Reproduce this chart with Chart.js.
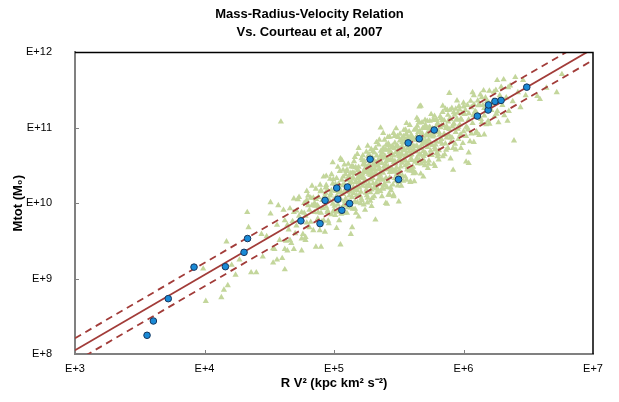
<!DOCTYPE html>
<html>
<head>
<meta charset="utf-8">
<script src="https://cdn.jsdelivr.net/npm/chart.js@4.4.0/dist/chart.umd.min.js"></script>
<style>
  html, body { margin: 0; padding: 0; background: #fff; }
</style>
</head>
<body>
<canvas id="c" width="619" height="402"></canvas>
<script>
const xTicks = [1e3, 1e4, 1e5, 1e6, 1e7];
const xTickLabels = ['E+3', 'E+4', 'E+5', 'E+6', 'E+7'];
const yTicks = [1e8, 1e9, 1e10, 1e11, 1e12];
const yTickLabels = ['E+8', 'E+9', 'E+10', 'E+11', 'E+12'];

// Courteau et al. comparison galaxies (blue circles)
const blueX = [3.6e3, 4.03e3, 5.25e3, 8.3e3, 1.45e4, 2.02e4, 2.15e4, 5.55e4, 7.8e4, 8.53e4,
  1.05e5, 1.27e5, 1.07e5, 1.32e5, 1.15e5, 1.9e5, 3.15e5, 3.74e5, 4.55e5, 5.94e5,
  1.28e6, 1.55e6, 1.56e6, 1.75e6, 1.95e6, 3.08e6];
const blueY = [1.77e8, 2.74e8, 5.42e8, 1.42e9, 1.44e9, 2.23e9, 3.4e9, 5.83e9, 5.36e9, 1.09e10,
  1.59e10, 1.64e10, 1.13e10, 9.9e9, 8.06e9, 3.83e10, 2.07e10, 6.31e10, 7.16e10, 9.35e10,
  1.43e11, 1.72e11, 2.01e11, 2.24e11, 2.31e11, 3.46e11];

// fit line and its scatter band
const fitX = [1e3, 1e7];
const fitY = [1.12e8, 1.12e12];
const upperY = [1.62e8, 1.62e12];
const lowerY = [7.9e7, 7.9e11];

const greenLogX = [
  4.62,4.65,4.66,4.68,4.70,4.71,4.72,4.74,4.75,4.76,4.77,4.78,4.79,4.80,4.63,4.69,4.73,4.78,4.67,4.80,
  4.81,4.82,4.82,4.83,4.84,4.85,4.85,4.86,4.87,4.88,4.88,4.89,4.90,4.90,4.91,4.92,4.92,4.93,4.94,4.94,
  4.95,4.95,4.96,4.96,4.97,4.97,4.98,4.98,4.99,4.99,5.00,5.00,4.84,4.87,4.93,
  5.01,5.01,5.02,5.02,5.03,5.03,5.04,5.04,5.05,5.05,5.06,5.06,5.07,5.07,5.08,5.08,5.09,5.09,5.10,5.10,
  5.11,5.11,5.12,5.12,5.13,5.13,5.14,5.14,5.15,5.15,5.16,5.16,5.17,5.17,5.18,5.18,5.19,5.19,5.20,5.20,
  5.02,5.06,5.10,5.14,5.18,5.12,5.04,5.16,5.08,5.20,
  5.21,5.21,5.22,5.22,5.23,5.23,5.24,5.24,5.25,5.25,5.26,5.26,5.27,5.27,5.28,5.28,5.29,5.29,5.30,5.30,
  5.31,5.31,5.32,5.32,5.33,5.33,5.34,5.34,5.35,5.35,5.36,5.36,5.37,5.37,5.38,5.38,5.39,5.39,5.40,5.40,
  5.22,5.24,5.26,5.28,5.30,5.32,5.34,5.36,5.38,5.40,5.23,5.27,5.31,5.35,5.39,
  5.41,5.41,5.42,5.42,5.43,5.43,5.44,5.44,5.45,5.45,5.46,5.46,5.47,5.47,5.48,5.48,5.49,5.49,5.50,5.50,
  5.51,5.51,5.52,5.52,5.53,5.53,5.54,5.54,5.55,5.55,5.56,5.56,5.57,5.57,5.58,5.58,5.59,5.59,5.60,5.60,
  5.42,5.44,5.46,5.48,5.50,5.52,5.54,5.56,5.58,5.60,5.43,5.47,5.51,5.55,5.59,
  5.61,5.61,5.62,5.62,5.63,5.63,5.64,5.64,5.65,5.65,5.66,5.66,5.67,5.67,5.68,5.68,5.69,5.69,5.70,5.70,
  5.71,5.71,5.72,5.72,5.73,5.73,5.74,5.74,5.75,5.75,5.76,5.76,5.77,5.77,5.78,5.78,5.79,5.79,5.80,5.80,
  5.64,5.70,5.74,5.62,5.78,
  5.81,5.81,5.82,5.83,5.83,5.84,5.85,5.85,5.86,5.86,5.87,5.88,5.88,5.89,5.90,5.90,5.91,5.92,5.92,5.93,
  5.94,5.94,5.95,5.96,5.96,5.97,5.98,5.98,5.99,6.00,6.00,5.84,5.90,5.95,5.87,
  6.01,6.02,6.03,6.04,6.05,6.06,6.07,6.08,6.09,6.10,6.11,6.12,6.13,6.14,6.15,6.16,6.17,6.18,6.19,6.20,
  6.03,6.07,6.12,6.16,6.08,
  6.22,6.24,6.25,6.27,6.28,6.30,6.31,6.33,6.35,6.36,6.38,6.40,6.42,6.44,6.46,6.48,6.26,6.34,
  4.59,4.33,4.34,4.17,4.27,4.21,3.99,4.24,4.36,4.40,4.18,4.15,4.13,4.01,4.51,4.51,4.44,4.48,4.53,4.56,
  4.53,4.60,4.62,4.45,4.54,4.62,4.69,4.75,
  6.39,6.04,5.89,5.66,6.76,6.72,6.64,6.57,6.59,
  4.99,5.05,5.19,5.36,5.38,5.56,5.67,4.94,4.79,
  5.19,5.29,5.41,5.46,6.02,6.04,5.92,5.32,5.50,5.40,5.13,5.05,5.14,4.90,4.86,4.78,5.69,5.59,5.46,5.43,
  4.855,4.875,4.895,4.915,4.935,4.955,4.975,4.995,5.005,5.015,5.025,5.035,5.045,5.055,5.065,5.075,5.085,5.095,5.105,5.115,
  5.125,5.135,5.145,5.155,5.165,5.175,5.185,5.195,5.205,5.215,5.225,5.235,5.245,5.255,5.265,5.275,5.285,5.295,5.305,5.315,
  5.325,5.335,5.345,5.355,5.365,5.375,5.385,5.395,5.405,5.415,5.425,5.435,5.445,5.455,5.465,5.475,5.485,5.495,5.505,5.515,
  5.525,5.535,5.545,5.555,5.565,5.575,5.585,5.595,5.605,5.615,5.625,5.635,5.645,5.655,5.665,5.675,5.685,5.695,5.705,5.715,
  5.725,5.735,5.745,5.755,5.765,5.775,5.785,5.795,5.805,5.815,5.825,5.835,5.845,5.855,5.865,5.875,5.885,5.895,5.905,5.915,
  5.925,5.935,5.945,5.955,5.965,5.975,5.985,5.995,6.015,6.035,6.055,6.075,6.095,6.115,6.135,6.155,6.175,6.195,6.215,6.235,
  6.255,6.285,6.315,6.345,
  5.103,5.118,5.133,5.148,5.163,5.178,5.193,5.208,5.223,5.238,5.253,5.268,5.283,5.298,5.313,5.328,5.343,5.358,5.373,5.388,
  5.403,5.418,5.433,5.448,5.463,5.478,5.493,5.508,5.523,5.538,5.553,5.568,5.583,5.598,5.613,5.628,5.643,5.658,5.673,5.688,
  5.703,5.718,5.733,5.748,5.763,5.778,5.793,5.808,5.823,5.838,
  4.56,4.58,4.61,4.64,4.66,4.69,4.71,4.73,4.75,4.77,4.79,4.81,4.83,4.57,4.64,
  4.862,4.878,4.893,4.907,4.921,4.936,4.951,4.966,4.981,4.996,5.011,5.026,5.041,5.056,5.071,5.086,5.101,5.116,5.131,5.146,
  5.161,5.176,5.191,5.206,5.221,5.236,5.251,5.266,5.281,5.296,5.311,5.326,5.341,5.356,5.371,5.386,5.401,5.416,5.431,5.446,
  5.461,5.476,5.491,5.506,5.521,5.536,5.551,5.566,5.581,5.596,5.611,5.626,5.641,5.656,5.671,5.686,5.701,5.716,5.731,5.746,
  5.761,5.776,5.791,5.806,5.821,5.836,5.851,5.866,5.881,5.896,5.911,5.926,5.941,5.956,5.971,5.986,6.001,6.021,6.041,6.061,
  6.081,6.101,6.121,6.141,6.161,6.181,6.201,6.231,6.261,6.291,
  5.152,5.167,5.182,5.197,5.212,5.227,5.242,5.257,5.272,5.287,5.302,5.317,5.332,5.347,5.362,5.377,5.392,5.407,5.422,5.437,
  5.452,5.467,5.482,5.497,5.512,5.527,5.542,5.557,5.572,5.587,5.602,5.617,5.632,5.647,5.662,5.677,5.692,5.707,5.722,5.737
];
const greenLogY = [
  9.77,9.65,9.93,9.76,9.60,9.90,10.05,9.77,9.88,9.59,10.00,9.83,9.74,10.10,9.50,10.06,9.83,9.55,9.47,9.97,
  9.91,9.75,10.07,10.23,9.64,10.00,9.88,10.19,9.77,10.08,9.95,9.64,10.17,9.87,10.04,10.35,9.77,10.10,9.95,10.24,
  9.88,10.18,10.04,9.73,10.32,10.10,9.85,10.17,9.99,10.26,10.05,9.91,10.07,9.97,9.62,
  10.16,9.84,10.33,10.09,9.98,10.48,10.24,9.77,10.16,10.05,10.31,9.93,10.44,10.12,10.25,9.87,10.38,10.06,10.20,10.31,
  10.02,10.52,10.26,10.15,9.94,10.40,10.32,10.08,10.48,10.21,10.02,10.39,10.29,9.87,10.65,10.17,10.35,10.48,10.10,10.28,
  9.67,10.57,9.87,10.49,10.01,10.36,10.14,10.18,10.51,10.40,
  10.34,10.06,10.57,10.23,10.42,9.98,10.51,10.31,10.18,10.68,10.41,10.07,10.50,10.26,10.60,10.37,10.18,10.46,10.69,10.33,
  10.09,10.56,10.44,10.24,10.63,10.38,10.18,10.54,10.84,10.45,10.32,10.63,10.09,10.53,10.73,10.40,10.61,10.26,10.51,10.71,
  10.39,9.91,10.76,10.03,10.51,10.73,10.31,10.41,10.19,10.33,10.33,10.65,10.45,10.25,10.84,
  10.60,10.21,10.79,10.48,10.34,10.68,10.57,10.17,10.76,10.45,10.63,10.93,10.33,10.56,10.75,10.43,10.89,10.64,10.28,10.72,
  10.58,10.42,10.85,10.64,10.36,10.72,10.57,10.97,10.80,10.50,10.66,10.31,10.87,10.73,10.46,10.95,10.64,10.80,10.57,10.89,
  10.11,10.67,10.43,10.99,10.57,10.23,10.72,10.91,10.69,10.43,10.88,10.80,10.92,10.35,10.28,
  10.76,10.48,10.97,10.70,10.40,10.86,10.76,10.60,10.94,11.10,10.57,10.83,10.73,10.39,10.93,11.07,10.69,10.88,10.55,11.01,
  10.82,10.65,11.09,10.93,10.52,10.78,11.01,10.64,10.90,11.18,10.77,10.99,10.52,10.90,11.10,10.71,10.97,10.82,11.06,10.62,
  11.13,10.80,11.09,10.29,10.49,
  10.94,10.70,11.15,10.85,11.03,10.62,11.10,10.92,10.79,11.25,11.02,10.73,11.17,10.98,10.87,11.11,11.26,10.73,11.04,11.17,
  10.94,11.25,11.12,10.85,11.01,11.24,10.73,11.12,11.19,10.95,11.33,11.29,10.59,11.36,10.87,
  11.18,10.89,11.30,11.11,10.82,11.27,11.06,11.43,11.22,10.95,11.36,11.15,11.44,11.07,11.30,10.91,11.40,11.23,11.09,11.49,
  11.00,11.47,11.31,11.26,10.81,
  11.32,11.15,11.50,11.07,11.43,11.30,11.64,11.40,11.22,11.56,11.35,11.67,11.47,11.27,11.63,11.43,11.63,11.09,
  11.08,9.88,9.68,9.49,9.25,9.18,9.13,9.05,9.08,9.08,8.91,8.85,8.75,8.70,10.01,9.86,9.59,9.56,9.40,9.25,
  9.21,9.27,9.12,9.29,9.39,9.39,9.39,9.37,
  10.83,10.53,11.46,11.28,11.71,11.47,11.53,11.42,11.38,
  10.54,10.59,10.73,11.00,10.93,11.06,11.29,10.36,10.16,
  9.82,9.96,9.99,10.09,10.55,10.67,10.44,9.78,10.02,10.00,9.59,9.45,9.68,9.42,9.42,9.51,10.35,10.29,10.11,10.11,
  9.965,9.795,10.155,9.935,10.135,9.765,10.125,10.315,9.965,10.075,9.885,10.255,10.425,10.045,10.235,9.975,10.175,10.425,9.945,10.355,
  10.165,10.275,9.925,10.555,10.275,10.105,10.435,10.205,10.385,10.035,10.515,10.285,10.135,10.465,10.625,10.225,10.415,10.065,10.575,10.395,
  10.195,10.505,10.775,10.335,10.595,10.205,10.485,10.705,10.325,10.575,10.765,10.465,10.635,10.245,10.725,10.525,10.385,10.875,10.625,10.485,
  10.755,10.295,10.845,10.635,10.445,10.765,11.035,10.595,10.855,10.425,10.755,10.985,10.575,10.725,10.885,10.525,10.995,10.805,10.665,10.895,
  10.465,11.005,10.795,10.635,11.105,10.935,10.775,11.035,10.645,10.905,11.125,10.785,11.035,10.645,10.995,11.235,10.905,11.125,10.815,11.015,
  11.205,10.785,11.105,10.985,11.285,10.905,11.105,10.795,11.235,10.975,11.355,11.165,10.925,11.295,11.115,11.495,11.045,11.335,11.235,11.475,
  11.185,11.395,11.165,11.535,
  10.173,10.098,10.483,10.338,9.923,10.458,10.283,10.148,10.633,10.458,10.103,10.388,10.313,10.598,10.213,10.808,10.493,10.158,10.613,10.448,
  10.773,10.288,10.573,10.738,10.413,10.678,10.233,10.828,10.533,10.698,10.973,10.478,10.843,10.648,10.393,10.838,11.023,10.648,10.843,10.578,
  11.103,10.798,10.563,10.978,10.883,10.738,11.103,10.578,11.003,11.208,
  9.71,9.51,9.91,9.71,9.51,9.88,9.70,10.08,9.53,9.87,10.04,9.68,9.97,9.97,9.37,
  10.052,9.878,10.243,9.757,10.041,10.206,9.901,10.036,10.381,9.886,10.251,10.036,10.201,9.856,10.351,10.026,10.441,10.216,10.011,10.406,
  10.611,10.216,10.391,9.996,10.351,10.556,10.221,10.446,10.141,10.386,10.671,10.266,10.571,10.376,10.671,10.236,10.551,10.876,10.411,10.656,
  10.541,10.296,10.761,10.436,10.661,10.886,10.561,10.766,10.431,10.906,10.701,10.546,10.891,11.066,10.641,10.836,10.501,10.996,10.841,10.696,
  10.951,11.156,10.661,10.946,10.811,11.096,10.901,10.706,11.081,11.236,10.871,11.056,10.711,11.196,11.041,10.896,11.281,11.011,11.191,10.921,
  11.311,11.201,10.901,11.401,11.161,11.351,11.051,11.361,11.221,11.541,
  10.132,10.477,10.332,10.107,10.592,10.257,10.412,10.007,10.522,10.717,10.262,10.507,10.142,10.457,10.692,10.307,10.632,10.447,10.712,10.207,
  10.572,10.887,10.472,10.677,10.372,10.807,10.592,10.917,10.532,10.727,10.442,10.847,10.682,10.527,10.952,10.777,10.622,11.037,10.742,10.907
];

const FONT = 'Liberation Sans, Arial, Helvetica, sans-serif';
const red = '#a23c39';
const pts = (xs, ys) => xs.map((x, i) => ({ x: x, y: ys[i] }));
const greenPts = greenLogX.map((v, i) => ({ x: Math.pow(10, v), y: Math.pow(10, greenLogY[i]) }));

// plot frame (top/right) and the small inward tick marks
const frame = {
  id: 'frame',
  afterDatasetsDraw(chart) {
    const { ctx, chartArea: a, scales } = chart;
    ctx.save();
    ctx.strokeStyle = '#000';
    ctx.lineWidth = 1.5;
    ctx.beginPath();
    ctx.moveTo(a.left, a.top);
    ctx.lineTo(a.right, a.top);
    ctx.lineTo(a.right, a.bottom);
    ctx.stroke();
    ctx.strokeStyle = '#808080';
    ctx.lineWidth = 1;
    xTicks.slice(1, -1).forEach(v => {
      const px = Math.round(scales.x.getPixelForValue(v)) + 0.5;
      ctx.beginPath(); ctx.moveTo(px, a.bottom); ctx.lineTo(px, a.bottom - 4); ctx.stroke();
    });
    yTicks.slice(1, -1).forEach(v => {
      const py = Math.round(scales.y.getPixelForValue(v)) + 0.5;
      ctx.beginPath(); ctx.moveTo(a.left, py); ctx.lineTo(a.left + 4, py); ctx.stroke();
    });
    ctx.restore();
  }
};

new Chart(document.getElementById('c'), {
  type: 'scatter',
  data: {
    datasets: [
      {
        data: pts(blueX, blueY),
        pointStyle: 'circle', pointRadius: 3.3,
        backgroundColor: '#1a8ad6', borderColor: '#17365d', borderWidth: 1
      },
      {
        data: pts(fitX, fitY), showLine: true, pointRadius: 0,
        borderColor: red, borderWidth: 1.8
      },
      {
        data: pts(fitX, upperY), showLine: true, pointRadius: 0,
        borderColor: red, borderWidth: 1.8, borderDash: [7, 5]
      },
      {
        data: pts(fitX, lowerY), showLine: true, pointRadius: 0,
        borderColor: red, borderWidth: 1.8, borderDash: [7, 5]
      },
      {
        data: greenPts,
        pointStyle: 'triangle', pointRadius: 3.6,
        backgroundColor: '#c3d69b', borderColor: '#c3d69b', borderWidth: 0
      }
    ]
  },
  options: {
    responsive: false,
    animation: false,
    devicePixelRatio: 1,
    layout: { padding: 0 },
    plugins: {
      legend: { display: false },
      tooltip: { enabled: false },
      title: {
        display: true,
        text: ['Mass-Radius-Velocity Relation', 'Vs. Courteau et al, 2007'],
        color: '#000',
        font: { family: FONT, size: 13, weight: 'bold', lineHeight: 1.4 },
        padding: { top: 5, bottom: 11 }
      }
    },
    scales: {
      x: {
        type: 'logarithmic', position: 'bottom', min: 1e3, max: 1e7,
        afterBuildTicks: s => { s.ticks = xTicks.map(v => ({ value: v })); },
        afterFit: s => { s.height = 48; },
        grid: { display: false, drawTicks: false },
        border: { color: '#808080', width: 2 },
        ticks: {
          autoSkip: false, maxRotation: 0, color: '#000', padding: 8,
          font: { family: FONT, size: 11 },
          callback: v => xTickLabels[xTicks.indexOf(v)]
        },
        title: {
          display: true, text: 'R V\u00b2 (kpc km\u00b2 s\u207b\u00b2)', color: '#000',
          font: { family: FONT, size: 13, weight: 'bold' },
          padding: { top: 0, bottom: 11 }
        }
      },
      y: {
        type: 'logarithmic', position: 'left', min: 1e8, max: 1e12,
        afterBuildTicks: s => { s.ticks = yTicks.map(v => ({ value: v })); },
        afterFit: s => { s.width = 75; },
        grid: { display: false, drawTicks: false },
        border: { color: '#808080', width: 2 },
        ticks: {
          autoSkip: false, color: '#000', padding: 23,
          font: { family: FONT, size: 11 },
          callback: v => yTickLabels[yTicks.indexOf(v)]
        },
        title: {
          display: true, text: 'Mtot (M\u2080)', color: '#000',
          font: { family: FONT, size: 13, weight: 'bold' },
          padding: { top: 11, bottom: 0 }
        }
      },
      // empty right-hand box so the plot ends at x = 593 while the title stays centred on the page
      yRight: {
        position: 'right', display: true,
        afterFit: s => { s.width = 26; },
        grid: { display: false, drawTicks: false },
        border: { display: false },
        ticks: { display: false }
      }
    }
  },
  plugins: [frame]
});
</script>
</body>
</html>
